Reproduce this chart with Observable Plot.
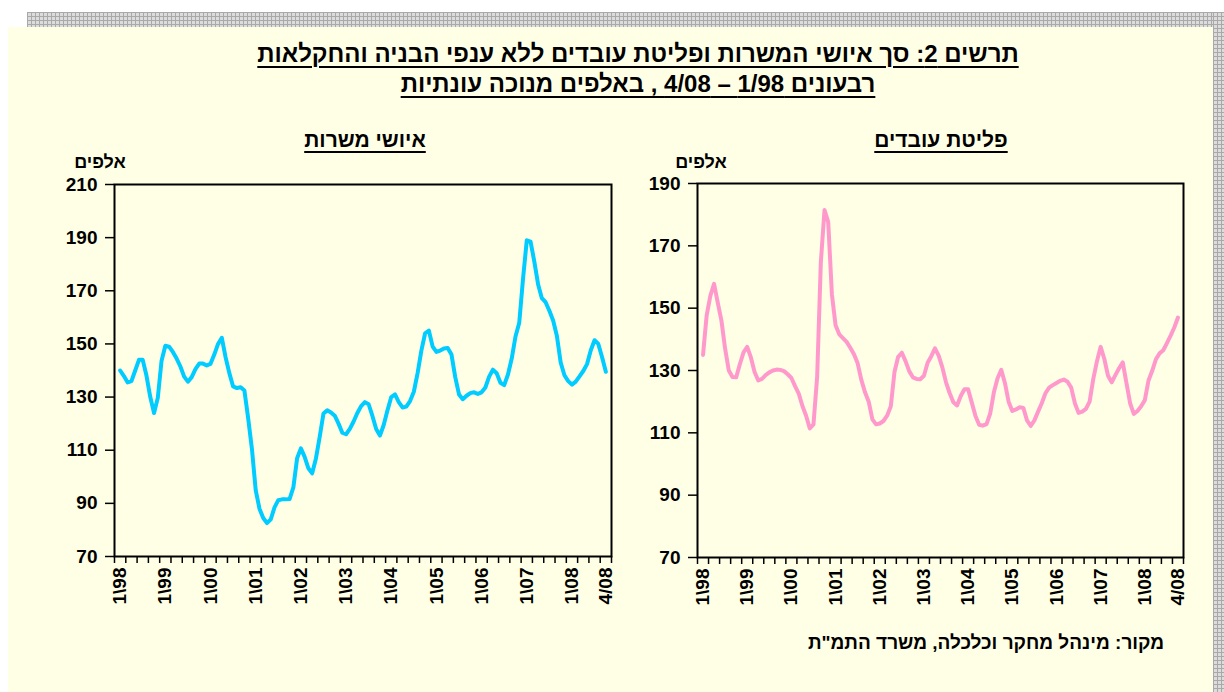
<!DOCTYPE html>
<html><head><meta charset="utf-8">
<script src="https://cdn.jsdelivr.net/npm/d3@7"></script>
<script src="https://cdn.jsdelivr.net/npm/@observablehq/plot@0.6"></script>
<style>
html,body{margin:0;padding:0;background:#fff;}
#page{position:relative;width:1224px;height:692px;overflow:hidden;background:#fff;font-family:"Liberation Sans",Arial,sans-serif;}
.grid{position:absolute;background-color:#dcdcdc;background-image:linear-gradient(#a9a9a9 1px,transparent 1px),linear-gradient(90deg,#a9a9a9 1px,transparent 1px);background-size:4px 4px;}
#cream{position:absolute;left:8px;top:27px;width:1205px;height:665px;background:#FFFFE6;}
.t{position:absolute;font-weight:bold;color:#000;white-space:nowrap;text-align:center;}
.u{text-decoration:underline;text-decoration-thickness:2px;text-underline-offset:4px;}
.chart{position:absolute;}
.chart svg{overflow:visible;}
</style></head>
<body>
<div id="page">
  <div class="grid" style="left:27px;top:12px;width:1197px;height:15px;"></div>
  <div class="grid" style="left:1213px;top:12px;width:11px;height:680px;"></div>
  <div id="cream"></div>
  <div id="title1" class="t u" dir="rtl" style="left:188px;width:900px;top:40px;font-size:24px;"></div>
  <div id="title2" class="t u" dir="rtl" style="left:188px;width:900px;top:70px;font-size:24px;"></div>
  <div id="subL" class="t u" dir="rtl" style="left:240px;width:250px;top:128px;font-size:21px;"></div>
  <div id="subR" class="t u" dir="rtl" style="left:816px;width:250px;top:128px;font-size:21px;"></div>
  <div id="unitL" class="t" dir="rtl" style="left:50px;width:100px;top:152px;font-size:18px;"></div>
  <div id="unitR" class="t" dir="rtl" style="left:651px;width:100px;top:152px;font-size:18px;"></div>
  <div id="chartL" class="chart" style="left:0px;top:150px;"></div>
  <div id="chartR" class="chart" style="left:600px;top:150px;"></div>
  <div id="source" class="t" dir="rtl" style="left:736px;width:500px;top:632px;font-size:19px;"></div>
</div>
<script>
// ---- Data (thousands, seasonally adjusted), monthly points Feb 1998 .. Nov 2008 ----
const jobPositions = [140,137.9,135.5,136,140,144,144,138,130,124,129.7,143.7,
 149.3,149,147,144.5,141.5,137.7,135.8,137.5,140.5,142.6,142.6,141.9,
 142.5,146,150,152.3,145,139,134,133.4,133.7,132.5,122,110.5,
 95,88,84.5,82.6,84,88.5,91.2,91.5,91.5,91.6,96,107,
 110.7,107.5,103.2,101.3,106.9,115,123.8,125,124.2,123,120,116.6,
 116,118,120.8,124,126.6,128.1,127.3,122.9,118,115.5,119.5,125,
 130,131,128.1,126.1,126.4,128.5,132,139,147.5,154,155,149,
 147,147.5,148.3,148.5,146,137.5,131,129.2,130.5,131.5,131.8,131.2,
 131.8,133.6,137.7,140.3,139,135.4,134.5,138.5,144.5,152.8,158,174.5,
 189,188.5,181,172.5,167.2,165.7,162.5,158.8,153,143,138.2,136,
 134.7,135.8,137.8,139.8,142.4,147.6,151.4,150,145,139.5];
const workerOutflow = [135,147.8,154,157.8,151.8,146,137,130,127.9,127.8,132,135.8,
 137.6,134.2,129.5,126.8,127.3,128.5,129.4,130,130.3,130.2,129.8,128.8,
 127.6,125,122.6,118.6,115.5,111.4,112.7,128,164.8,181.5,177.7,154.5,
 144.5,141.6,140.4,139.2,137.3,135.2,132.3,127,123,120,114.3,112.7,
 113,113.8,115.5,118.5,129.5,134.4,135.7,133,129.8,127.8,127.3,127.2,
 128.3,132.5,134.6,137.1,134.8,131,126.2,122.7,119.8,118.8,121.8,124,
 124,119.7,115.4,112.6,112.3,112.8,116.2,123,127.5,130.2,126,120,
 117,117.5,118.2,118,114,112.2,114,116.8,119.5,122.7,124.5,125.3,
 126,126.7,127.1,126.4,124.5,119.5,116.4,116.8,117.7,120,127.3,133,
 137.6,133.7,128.3,126.2,128.5,130.7,132.6,126,119.5,116.1,117,118.5,
 120.5,126.8,129.9,133.6,135.5,136.5,138.8,141.2,143.8,147];
const xTickLabels = ["1\\98","1\\99","1\\00","1\\01","1\\02","1\\03","1\\04","1\\05","1\\06","1\\07","1\\08","4/08"];
const yTicksLeft = [70,90,110,130,150,170,190,210];
const yTicksRight = [70,90,110,130,150,170,190];

const titleText1 = "תרשים 2: סך איושי המשרות ופליטת עובדים ללא ענפי הבניה והחקלאות";
const titleText2 = "רבעונים 1/98 – 4/08 , באלפים מנוכה עונתיות";
const leftTitle = "איושי משרות";
const rightTitle = "פליטת עובדים";
const unitText = "אלפים";
const sourceText = "מקור: מינהל מחקר וכלכלה, משרד התמ\"ת";

document.getElementById("title1").textContent = titleText1;
document.getElementById("title2").textContent = titleText2;
document.getElementById("subL").textContent = leftTitle;
document.getElementById("subR").textContent = rightTitle;
document.getElementById("unitL").textContent = unitText;
document.getElementById("unitR").textContent = unitText;
document.getElementById("source").textContent = sourceText;

// x axis: months from Jan 1998 (0) to end of 2008 (132); quarter ticks, labels at quarter centres
const quarterTicks = d3.range(0, 133, 3);
const labelPos = xTickLabels.map((l, i) => i < 11 ? 1.5 + 12 * i : 130.5);
const labelMap = new Map(labelPos.map((p, i) => [p, xTickLabels[i]]));

function panel(values, color, yMax, yTicks, m) {
  const data = values.map((v, i) => ({x: i + 1.5, y: v}));
  return Plot.plot({
    width: m.w, height: 490,
    marginLeft: m.l, marginRight: m.r, marginTop: m.t, marginBottom: m.b,
    style: {background: "transparent", fontFamily: "'Liberation Sans', Arial, sans-serif", fontWeight: "bold", color: "#000", overflow: "visible"},
    x: {domain: [0, 132]},
    y: {domain: [70, yMax]},
    marks: [
      Plot.line(data, {x: "x", y: "y", stroke: color, strokeWidth: 4, strokeLinejoin: "round", strokeLinecap: "round"}),
      Plot.frame({stroke: "#000", strokeWidth: 2}),
      Plot.axisY({ticks: yTicks, tickSize: 9, tickPadding: 8, fontSize: 19, label: null, strokeWidth: 1.5, tickFormat: d => String(d)}),
      Plot.axisX({ticks: quarterTicks, tickSize: 7, tickFormat: () => "", label: null, strokeWidth: 1.5}),
      Plot.axisX({ticks: labelPos, tickSize: 0, tickPadding: 11, tickRotate: -90, fontSize: 19, label: null, tickFormat: d => labelMap.get(d)})
    ]
  });
}

document.getElementById("chartL").append(panel(jobPositions, "#00CCFF", 210, yTicksLeft, {w: 640, l: 114, r: 29, t: 34, b: 84}));
document.getElementById("chartR").append(panel(workerOutflow, "#FF99CC", 190, yTicksRight, {w: 610, l: 97, r: 27, t: 33, b: 83}));
</script>
</body></html>
